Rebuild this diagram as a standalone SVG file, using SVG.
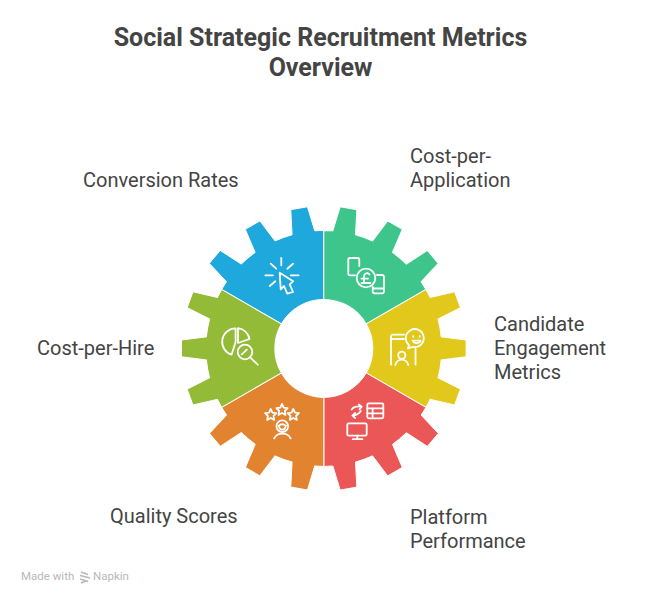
<svg xmlns="http://www.w3.org/2000/svg" width="648" height="601" viewBox="0 0 648 601">
<style>
text{font-family:Roboto,"Liberation Sans",sans-serif;fill:#444}
.title{font-size:25px;font-weight:700;text-anchor:middle}
.label{font-size:20px}
.sector{stroke:#fff;stroke-width:1}
.icon{fill:none;stroke:#fff;stroke-width:1.8;stroke-linecap:round;stroke-linejoin:round}
.brand{font-size:11.5px;fill:#b8b8b8}
</style>
<defs>
<path id="sector" d="M0,-118 L-9.05,-117.65 L-16.39,-141.65 L-33.05,-138.72 L-31.73,-113.65 A118,118 0 0 0 -48.75,-107.46 L-63.85,-127.52 L-78.5,-119.05 L-68.69,-95.95 A118,118 0 0 0 -82.56,-84.31 L-103.6,-97.98 L-114.5,-85 L-97.36,-66.67 L-102.19,-59 L-42.44,-24.5 A49,49 0 0 1 0,-49 Z"/>
</defs>
<rect width="648" height="601" fill="#fff"/>
<g id="title">
<text class="title" x="320.5" y="46">Social Strategic Recruitment Metrics</text>
<text class="title" x="320.5" y="76">Overview</text>
</g>
<g id="node-conversion-rates">
<use href="#sector" class="sector" fill="#1fa8dc" transform="translate(323.8 348.4)"/>
<g class="icon">
<path d="M281.3,258V265.3M270.7,263.7L276.3,268.7M293,263.7L287.3,268.7M265.3,275.3H273M290.7,275.3H298.7M269.7,286L275.3,281.3"/>
<path d="M279.7,272.7L293.2,281.2L289.7,284.3L293,292L287.3,293.7L284,286L280.7,289.3Z"/>
</g>
<text class="label" x="83" y="187">Conversion Rates</text>
</g>
<g id="node-cost-per-application">
<use href="#sector" class="sector" fill="#3dc58b" transform="translate(323.8 348.4) rotate(60)"/>
<g class="icon">
<path d="M355,275.3H350A1.8,1.8 0 0 1 348.3,273.5V259.8A1.8,1.8 0 0 1 350,258H357.5A1.8,1.8 0 0 1 359.3,259.8V266"/>
<circle cx="366" cy="278" r="9.3"/>
<path d="M369.5,274.6A3,3 0 0 0 364,276V282.6M361.5,278.6H368M361.5,283H370.3"/>
<path d="M377,275H382.2A1.8,1.8 0 0 1 384,276.8V291.5A1.8,1.8 0 0 1 382.2,293.3H374.5A1.8,1.8 0 0 1 372.7,291.5V287M372.7,288.5H384"/>
</g>
<text class="label" x="410" y="163">Cost-per-</text>
<text class="label" x="410" y="187">Application</text>
</g>
<g id="node-candidate-engagement-metrics">
<use href="#sector" class="sector" fill="#e3c81c" transform="translate(323.8 348.4) rotate(120)"/>
<g class="icon">
<path d="M391,364.5V336.5A2,2 0 0 1 393,334.7H404M391,339H404M415.5,349V364.5"/>
<path d="M409,345A9,9 0 1 1 412.5,346.8L408,348.5Z"/>
<path d="M413.3,336.2v0.6M419.6,336.2v0.6M412.6,340.6A4.5,4.5 0 0 0 420.6,340.6Z"/>
<circle cx="401.8" cy="355.3" r="3.6"/>
<path d="M395.3,365A6.6,6.6 0 0 1 408.3,365"/>
</g>
<text class="label" x="494" y="331">Candidate</text>
<text class="label" x="494" y="355">Engagement</text>
<text class="label" x="494" y="379">Metrics</text>
</g>
<g id="node-platform-performance">
<use href="#sector" class="sector" fill="#eb5757" transform="translate(323.8 348.4) rotate(180)"/>
<g class="icon">
<rect x="367.3" y="403.3" width="16" height="15" rx="1.5"/>
<path d="M367.3,408.3H383.3M367.3,413.3H383.3M372.6,408.3V418.3"/>
<path d="M351.7,409.5Q354,405.8 361.5,406.6M358.8,404.5L361.7,406.7L359.5,409.3M360.8,411Q358,415 352.6,415.6M355.2,413L352.4,415.6L355.2,418"/>
<rect x="347.3" y="423.3" width="19.4" height="12.4" rx="1.5"/>
<path d="M357.3,435.7V439M352.7,439.2H362.4"/>
</g>
<text class="label" x="410" y="524">Platform</text>
<text class="label" x="410" y="548">Performance</text>
</g>
<g id="node-quality-scores">
<use href="#sector" class="sector" fill="#e2832f" transform="translate(323.8 348.4) rotate(240)"/>
<g class="icon">
<path d="M270.7,409L272.4,412.6L276.3,413.2L273.5,416L274.2,419.9L270.7,418L267.2,419.9L267.9,416L265.1,413.2L269,412.6Z"/>
<path d="M282,404L283.7,407.6L287.6,408.2L284.8,411L285.5,414.9L282,413L278.5,414.9L279.2,411L276.4,408.2L280.3,407.6Z"/>
<path d="M293.3,409L295,412.6L298.9,413.2L296.1,416L296.8,419.9L293.3,418L289.8,419.9L290.5,416L287.7,413.2L291.6,412.6Z"/>
<circle cx="282.3" cy="426.2" r="5.8"/>
<path d="M278.6,426Q282.3,422.6 286,426M279.2,427.2A3.2,3.2 0 0 0 285.4,427.2"/>
<path d="M274.2,438.4A9,8 0 0 1 290.6,438.4"/>
</g>
<text class="label" x="110" y="523">Quality Scores</text>
</g>
<g id="node-cost-per-hire">
<use href="#sector" class="sector" fill="#93bb37" transform="translate(323.8 348.4) rotate(300)"/>
<g class="icon">
<path d="M235.6,328.4A13.4,13.4 0 0 0 231.6,354.6L235.6,342Z"/>
<path d="M238,328.2A13,13 0 0 1 249.5,339L238,343Z"/>
<circle cx="245" cy="352" r="7.3"/>
<path d="M250.2,357.4L257.7,364.7M241.8,354.4L246.8,349.7"/>
</g>
<text class="label" x="37" y="355">Cost-per-Hire</text>
</g>
<g id="brand">
<text class="brand" x="21" y="580">Made with</text>
<path d="M81,572L88,574.5M80,575.5L90,578M80,579L88,581.5M81,583L86,581" fill="none" stroke="#b8b8b8" stroke-width="1.4"/>
<text class="brand" x="93" y="580">Napkin</text>
</g>
</svg>
